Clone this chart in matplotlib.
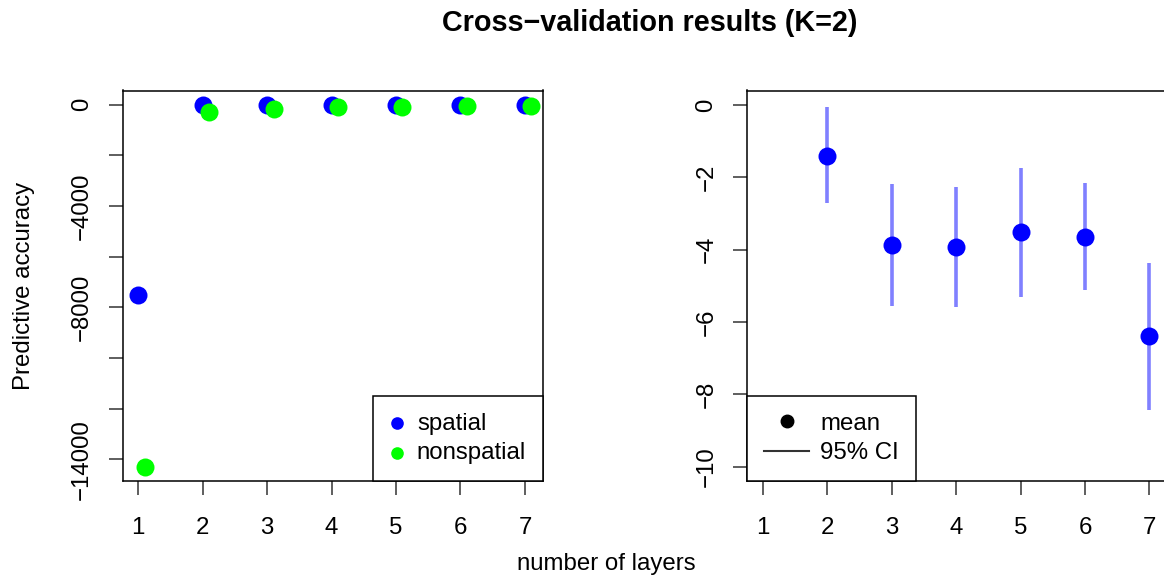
import numpy as np
import matplotlib.pyplot as plt
from matplotlib.lines import Line2D

plt.rcParams['font.family'] = ['Liberation Sans', 'DejaVu Sans']

# data
layers = [1, 2, 3, 4, 5, 6, 7]
spatial = [-7500, -15, -12, -10, -9, -9, -8]
nonspatial = [-14280, -290, -170, -95, -80, -65, -50]

diff_layers = [2, 3, 4, 5, 6, 7]
diff_mean = [-1.41, -3.87, -3.94, -3.52, -3.64, -6.40]
diff_lo = [-2.72, -5.57, -5.59, -5.30, -5.13, -8.44]
diff_hi = [-0.06, -2.18, -2.27, -1.74, -2.16, -4.36]

fs = 17.3  # 24 px at 100 dpi
W, H = 1164, 581
fig = plt.figure(figsize=(W / 100, H / 100), dpi=100)

ax1 = fig.add_axes([122.5 / W, 1 - 481 / H, 420.5 / W, 390.5 / H])
ax2 = fig.add_axes([747 / W, 1 - 481 / H, 420.5 / W, 390.5 / H])

# left panel
x = np.array(layers)
ax1.scatter(x, spatial, s=168, color='#0000ff', zorder=3, linewidths=0, label='spatial')
ax1.scatter(x + 0.1, nonspatial, s=168, color='#00ff00', zorder=3, linewidths=0, label='nonspatial')
ax1.set_xlim(0.756, 7.28)
ax1.set_ylim(-14851, 563)
yt = np.arange(-14000, 1, 2000)
shown = {0: '0', -4000: '\u22124000', -8000: '\u22128000', -14000: '\u221214000'}
ax1.set_yticks(yt)
ax1.set_yticklabels([shown.get(int(v), '') for v in yt])
leg1 = ax1.legend(loc='lower right', borderaxespad=0, fancybox=False, edgecolor='black',
                  framealpha=1, fontsize=fs, handlelength=0.61, handletextpad=0.52,
                  markerscale=0.7, borderpad=0.7, labelspacing=0.31, scatterpoints=1)
leg1.get_frame().set_linewidth(1.1)

# right panel
ax2.vlines(diff_layers, diff_lo, diff_hi, color='#8080ff', linewidth=2.6, zorder=2)
ax2.scatter(diff_layers, diff_mean, s=168, color='#0000ff', linewidths=0, zorder=3)
ax2.set_xlim(0.756, 7.28)
ax2.set_ylim(-10.4, 0.4)
ax2.set_yticks([0, -2, -4, -6, -8, -10])
handles = [Line2D([], [], marker='o', color='black', linestyle='none', markersize=9),
           Line2D([], [], color='#333333', linewidth=1.5)]
leg2 = ax2.legend(handles, ['mean', '95% CI'], loc='lower left', borderaxespad=0, fancybox=False,
                  edgecolor='black', framealpha=1, fontsize=fs, handlelength=1.9,
                  handletextpad=0.45, borderpad=0.7, labelspacing=0.31)
leg2.get_frame().set_linewidth(1.1)

for ax in (ax1, ax2):
    ax.set_xticks(layers)
    ax.tick_params(labelsize=fs, length=10.4, width=1.1, color='#333333')
    ax.tick_params(axis='x', pad=15.5)
    ax.tick_params(axis='y', pad=10.8, labelrotation=90)
    for lab in ax.get_yticklabels():
        lab.set_verticalalignment('center')
    for sp in ax.spines.values():
        sp.set_linewidth(1.1)

fig.text(24 / W, 1 - 286 / H, 'Predictive accuracy', rotation=90, ha='center', va='center', fontsize=fs)
fig.text(606.5 / W, 1 - 564 / H, 'number of layers', ha='center', va='center', fontsize=fs)
fig.text(649.5 / W, 1 - 31 / H, 'Cross\u2212validation results (K=2)', ha='center', va='baseline',
         fontsize=20.7, fontweight='bold')

fig.savefig('out.png', dpi=100)
